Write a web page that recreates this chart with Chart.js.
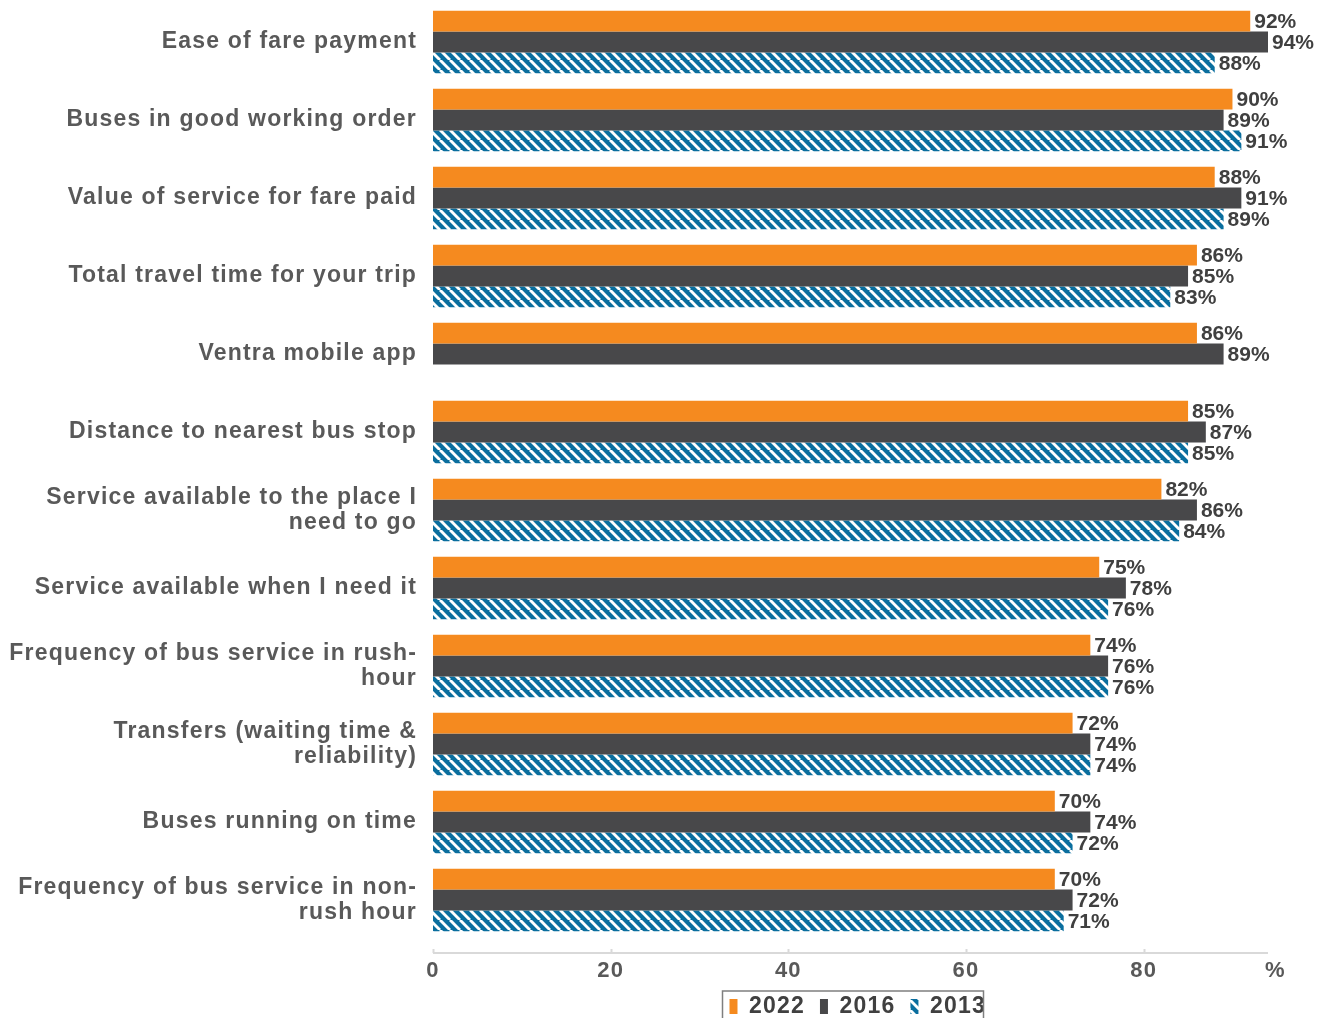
<!DOCTYPE html>
<html>
<head>
<meta charset="utf-8">
<script src="https://cdn.jsdelivr.net/npm/chart.js@4.4.1/dist/chart.umd.min.js"></script>
<style>
  html, body { margin: 0; padding: 0; background: #fff; overflow: hidden; height: 1018px; }
  #wrap { width: 1330px; height: 1028px; position: relative; }
</style>
</head>
<body>
<div id="wrap"><canvas id="chart"></canvas></div>
<script>
const categories = [
    'Ease of fare payment',
    'Buses in good working order',
    'Value of service for fare paid',
    'Total travel time for your trip',
    'Ventra mobile app',
    'Distance to nearest bus stop',
    ['Service available to the place I', 'need to go'],
    'Service available when I need it',
    ['Frequency of bus service in rush-', 'hour'],
    ['Transfers (waiting time &', 'reliability)'],
    'Buses running on time',
    ['Frequency of bus service in non-', 'rush hour']
];

const values2022 = [92, 90, 88, 86, 86, 85, 82, 75, 74, 72, 70, 70];
const values2016 = [94, 89, 91, 85, 89, 87, 86, 78, 76, 74, 74, 72];
const values2013 = [88, 91, 89, 83, null, 85, 84, 76, 76, 74, 72, 71];

const xTicks = [0, 20, 40, 60, 80];
const xMax = 94;

const textGray = '#595959';
const labelGray = '#404040';
const fontFamily = '"Liberation Sans", Arial, sans-serif';

// blue/white "\" hatch used for the 2013 bars
function makeHatch() {
    const size = 10;
    const c = document.createElement('canvas');
    c.width = size;
    c.height = size;
    const g = c.getContext('2d');
    g.fillStyle = '#0A6E9E';
    g.fillRect(0, 0, size, size);
    g.strokeStyle = '#ffffff';
    g.lineWidth = 2.9;
    for (let k = -1; k <= 1; k++) {
        g.beginPath();
        g.moveTo(k * size, 0);
        g.lineTo(k * size + size, size);
        g.stroke();
    }
    return g.createPattern(c, 'repeat');
}

// axis and legend labels are drawn a bit loose, the value labels are not
const labelSpacing = {
    id: 'labelSpacing',
    beforeDraw(chart) {
        chart.ctx.letterSpacing = '1.2px';
    },
    beforeDatasetsDraw(chart) {
        chart.ctx.letterSpacing = '0px';
    }
};

const valueLabels = {
    id: 'valueLabels',
    afterDatasetsDraw(chart) {
        const ctx = chart.ctx;
        ctx.save();
        ctx.letterSpacing = '0px';
        ctx.font = 'bold 21px ' + fontFamily;
        ctx.fillStyle = labelGray;
        ctx.textAlign = 'left';
        ctx.textBaseline = 'middle';
        chart.data.datasets.forEach((ds, i) => {
            chart.getDatasetMeta(i).data.forEach((bar, j) => {
                const v = ds.data[j];
                if (v === null) return;
                ctx.fillText(v + '%', bar.x + 4, bar.y + 1);
            });
        });
        ctx.restore();
    }
};

// x axis line sits a little below the last group, legend gets a frame
const axisAndLegendFrame = {
    id: 'axisAndLegendFrame',
    afterDraw(chart) {
        const ctx = chart.ctx;
        const area = chart.chartArea;
        const xs = chart.scales.x;
        ctx.save();
        ctx.strokeStyle = '#D9D9D9';
        ctx.lineWidth = 2;
        const yLine = area.bottom + 14;
        ctx.beginPath();
        ctx.moveTo(area.left, yLine);
        ctx.lineTo(area.right, yLine);
        ctx.stroke();
        xTicks.forEach(t => {
            const px = Math.round(xs.getPixelForValue(t)) + 0.5;
            ctx.beginPath();
            ctx.moveTo(px, yLine - 4);
            ctx.lineTo(px, yLine);
            ctx.stroke();
        });

        const boxes = chart.legend.legendHitBoxes;
        if (boxes && boxes.length) {
            const left = Math.min(...boxes.map(b => b.left)) - 7;
            const right = Math.max(...boxes.map(b => b.left + b.width)) + 12;
            const top = boxes[0].top - 4;
            ctx.strokeStyle = '#7F7F7F';
            ctx.lineWidth = 1.5;
            ctx.strokeRect(left, top, right - left, 60);
        }
        ctx.restore();
    }
};

const hatch = makeHatch();

new Chart(document.getElementById('chart'), {
    type: 'bar',
    data: {
        labels: categories,
        datasets: [
            {
                label: '2022',
                data: values2022,
                backgroundColor: '#F58A1F',
                borderWidth: 0
            },
            {
                label: '2016',
                data: values2016,
                backgroundColor: '#48484A',
                borderWidth: 0
            },
            {
                label: '2013',
                data: values2013,
                backgroundColor: hatch,
                borderWidth: 0
            }
        ]
    },
    options: {
        indexAxis: 'y',
        responsive: true,
        maintainAspectRatio: false,
        animation: false,
        devicePixelRatio: 1,
        layout: {
            padding: { top: 3, right: 62, left: 0, bottom: 0 }
        },
        datasets: {
            bar: {
                categoryPercentage: 0.8,
                barPercentage: 1.0
            }
        },
        scales: {
            x: {
                min: 0,
                max: xMax,
                afterBuildTicks: scale => {
                    scale.ticks = xTicks.concat([xMax]).map(v => ({ value: v }));
                },
                afterFit: scale => { scale.height = 41; },
                grid: { display: false, drawTicks: false },
                border: { display: false },
                ticks: {
                    padding: 19,
                    color: textGray,
                    font: { family: fontFamily, size: 22, weight: 'bold' },
                    // unit sign sits just past the end of the axis
                    callback: v => (v === xMax ? '\u00a0\u00a0%' : v)
                }
            },
            y: {
                afterFit: scale => {
                    scale.width = 433;
                    scale.paddingTop = 0;
                    scale.paddingBottom = 0;
                },
                grid: { display: false, drawTicks: false },
                border: { display: false },
                ticks: {
                    padding: 16,
                    color: textGray,
                    autoSkip: false,
                    font: { family: fontFamily, size: 23, weight: 'bold', lineHeight: 1.08 }
                }
            }
        },
        plugins: {
            tooltip: { enabled: false },
            legend: {
                position: 'bottom',
                fullSize: false,
                labels: {
                    boxWidth: 8,
                    boxHeight: 15,
                    padding: 15,
                    color: labelGray,
                    font: { family: fontFamily, size: 23, weight: 'bold' }
                }
            }
        }
    },
    plugins: [labelSpacing, valueLabels, axisAndLegendFrame]
});
</script>
</body>
</html>
